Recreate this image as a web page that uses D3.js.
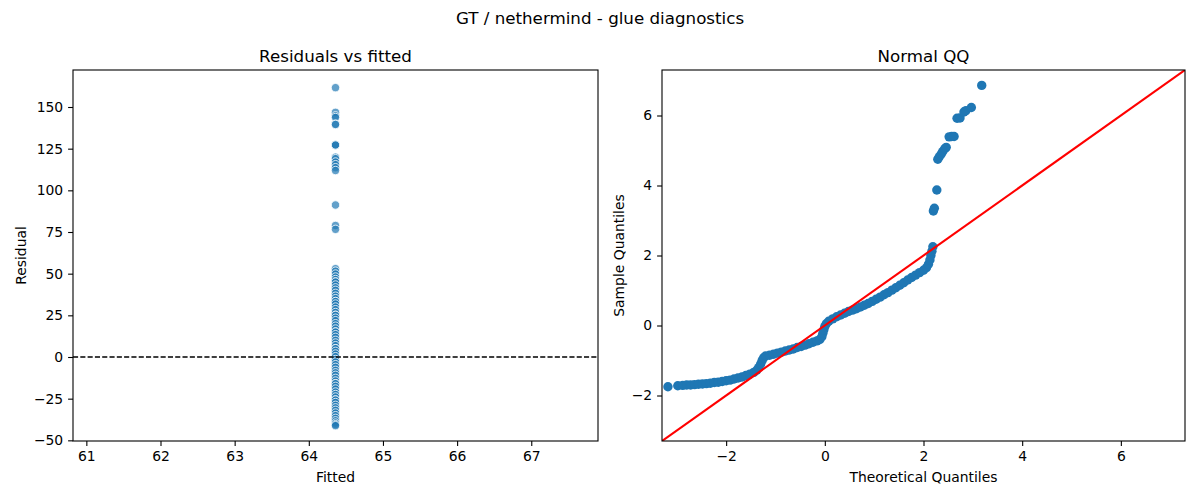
<!DOCTYPE html>
<html>
<head>
<meta charset="utf-8">
<script src="https://cdn.jsdelivr.net/npm/d3@7"></script>
<style>
  body { margin: 0; background: #fff; }
  svg { font-family: "DejaVu Sans", sans-serif; }
  .tick text { font-size: 13.9px; fill: #000; }
  .tick line, .domain { stroke: #000; }
</style>
</head>
<body>
<svg id="fig" width="1200" height="500"></svg>
<script>
// --- data ---
const fittedValue = 64.36;

const residuals = [
  161.6, 146.8, 144.7, 143.7, 139.7, 139.5, 127.2, 127.2, 127.2,
  119.9, 119.0, 117.0, 115.4, 113.6, 111.9, 91.2, 78.9, 76.6,
  53.0, 51.5, 49.8, 48.0, 46.5, 45.0, 45.0, 43.2, 41.5, 40.0, 38.2, 36.5,
  35.0, 33.3, 33.3, 31.8, 30.0, 28.4, 26.7, 25.0, 25.0, 23.3, 21.8, 20.0,
  18.5, 16.8, 15.0, 15.0, 13.4, 11.8, 10.0, 8.4, 6.8, 5.0, 5.0, 3.4, 1.8,
  0.2, -1.5, -3.0, -4.6, -6.2, -8.0, -9.5, -11.0, -12.8, -14.4, -16.0,
  -16.0, -17.6, -19.2, -21.0, -22.5, -24.0, -25.8, -25.8, -27.3, -29.0,
  -30.5, -32.0, -33.6, -35.2, -36.8, -38.3, -39.6, -40.6, -41.2
];

const theoretical = [
  -3.18, -2.98, -2.88, -2.80, -2.72, -2.64, -2.56, -2.48, -2.40, -2.32,
  -2.24, -2.16, -2.08, -2.00, -1.92, -1.84, -1.76, -1.68, -1.60, -1.52,
  -1.44, -1.38, -1.34, -1.30, -1.27, -1.24, -1.20, -1.12, -1.04, -0.96,
  -0.88, -0.80, -0.72, -0.64, -0.56, -0.48, -0.40, -0.32, -0.24, -0.16,
  -0.10, -0.06, -0.04, -0.02, 0.00, 0.03, 0.08, 0.16, 0.24, 0.32,
  0.40, 0.48, 0.56, 0.64, 0.72, 0.80, 0.88, 0.96, 1.04, 1.12,
  1.20, 1.28, 1.36, 1.44, 1.52, 1.60, 1.68, 1.76, 1.84, 1.92,
  2.00, 2.06, 2.10, 2.13, 2.15, 2.17, 2.19,
  2.20, 2.22, 2.27, 2.29, 2.32, 2.36, 2.39, 2.43, 2.46, 2.52,
  2.57, 2.62, 2.68, 2.74, 2.82, 2.86, 2.97, 3.18
];

const sample = [
  -1.75, -1.72, -1.71, -1.70, -1.70, -1.69, -1.68, -1.67, -1.66, -1.65,
  -1.63, -1.62, -1.60, -1.58, -1.56, -1.53, -1.50, -1.47, -1.43, -1.39,
  -1.34, -1.28, -1.20, -1.10, -1.00, -0.92, -0.87, -0.85, -0.82, -0.79,
  -0.76, -0.73, -0.70, -0.67, -0.63, -0.60, -0.56, -0.52, -0.48, -0.44,
  -0.40, -0.32, -0.22, -0.12, -0.03, 0.05, 0.12, 0.19, 0.25, 0.30,
  0.35, 0.40, 0.44, 0.48, 0.53, 0.58, 0.63, 0.69, 0.75, 0.81,
  0.88, 0.94, 1.01, 1.08, 1.15, 1.22, 1.30, 1.37, 1.44, 1.51,
  1.58, 1.65, 1.75, 1.87, 2.00, 2.12, 2.25,
  3.27, 3.35, 3.87, 4.75, 4.82, 4.90, 4.97, 5.05, 5.09, 5.39,
  5.40, 5.40, 5.92, 5.93, 6.10, 6.14, 6.23, 6.86
];

const residTicks = [-50, -25, 0, 25, 50, 75, 100, 125, 150];
const fittedTicks = [61, 62, 63, 64, 65, 66, 67];
const qqTicks = [-2, 0, 2, 4, 6];

const blue = '#1f77b4';
const svg = d3.select('#fig');

// suptitle
svg.append('text')
  .attr('x', 600).attr('y', 24)
  .attr('text-anchor', 'middle')
  .style('font-size', '16.7px')
  .text('GT / nethermind - glue diagnostics');

/**
 * Cadre d'un sous-graphe : axes, titre, libellés
 */
function panel(box, x, y, opts) {
  const g = svg.append('g');
  g.append('clipPath').attr('id', opts.id)
    .append('rect')
    .attr('x', box.left).attr('y', box.top)
    .attr('width', box.right - box.left).attr('height', box.bottom - box.top);

  const plot = g.append('g').attr('clip-path', `url(#${opts.id})`);

  g.append('g')
    .attr('transform', `translate(0,${box.bottom})`)
    .call(d3.axisBottom(x).tickValues(opts.xTicks).tickSize(4.9).tickPadding(4.9).tickFormat(opts.fmt))
    .call(a => a.select('.domain').remove());
  g.append('g')
    .attr('transform', `translate(${box.left},0)`)
    .call(d3.axisLeft(y).tickValues(opts.yTicks).tickSize(4.9).tickPadding(4.9).tickFormat(opts.fmt))
    .call(a => a.select('.domain').remove());

  g.selectAll('.tick line').attr('stroke-width', 1.1);
  g.selectAll('.tick text').attr('font-family', 'DejaVu Sans');

  // spines
  g.append('rect')
    .attr('x', box.left).attr('y', box.top)
    .attr('width', box.right - box.left).attr('height', box.bottom - box.top)
    .attr('fill', 'none').attr('stroke', '#000').attr('stroke-width', 1.1);

  const cx = (box.left + box.right) / 2;
  const cy = (box.top + box.bottom) / 2;
  g.append('text').attr('x', cx).attr('y', box.top - 8)
    .attr('text-anchor', 'middle').style('font-size', '16.7px').text(opts.title);
  g.append('text').attr('x', cx).attr('y', box.bottom + 41)
    .attr('text-anchor', 'middle').style('font-size', '13.9px').text(opts.xLabel);
  g.append('text')
    .attr('transform', `translate(${box.left - opts.yLabelOff},${cy}) rotate(-90)`)
    .attr('text-anchor', 'middle').style('font-size', '13.9px').text(opts.yLabel);

  return {plot, frame: g};
}

const minus = d => d3.format('d')(d).replace('-', '\u2212');

// --- Residuals vs fitted ---
const boxL = {left: 73, right: 598, top: 70, bottom: 441};
const xL = d3.scaleLinear().domain([60.82, 67.90]).range([boxL.left, boxL.right]);
const yL = d3.scaleLinear().domain([-50.4, 172.2]).range([boxL.bottom, boxL.top]);

const left = panel(boxL, xL, yL, {
  id: 'clipL', title: 'Residuals vs fitted', xLabel: 'Fitted', yLabel: 'Residual',
  xTicks: fittedTicks, yTicks: residTicks, fmt: minus, yLabelOff: 47
});

left.plot.append('g').selectAll('circle')
  .data(residuals)
  .join('circle')
    .attr('cx', xL(fittedValue))
    .attr('cy', d => yL(d))
    .attr('r', 4.2)
    .attr('fill', blue)
    .attr('fill-opacity', 0.7)
    .attr('stroke', '#fff')
    .attr('stroke-width', 0.8);

left.plot.append('line')
  .attr('x1', boxL.left).attr('x2', boxL.right)
  .attr('y1', yL(0)).attr('y2', yL(0))
  .attr('stroke', '#000').attr('stroke-width', 1.4)
  .attr('stroke-dasharray', '5.1,2.2');

// --- Normal QQ ---
const boxR = {left: 662, right: 1185, top: 70, bottom: 441};
const lim = [-3.3, 7.3];
const xR = d3.scaleLinear().domain(lim).range([boxR.left, boxR.right]);
const yR = d3.scaleLinear().domain(lim).range([boxR.bottom, boxR.top]);

const right = panel(boxR, xR, yR, {
  id: 'clipR', title: 'Normal QQ', xLabel: 'Theoretical Quantiles', yLabel: 'Sample Quantiles',
  xTicks: qqTicks, yTicks: qqTicks, fmt: minus, yLabelOff: 38
});

right.plot.append('g').selectAll('circle')
  .data(d3.zip(theoretical, sample))
  .join('circle')
    .attr('cx', d => xR(d[0]))
    .attr('cy', d => yR(d[1]))
    .attr('r', 4.7)
    .attr('fill', blue);

right.plot.append('line')
  .attr('x1', xR(lim[0])).attr('y1', yR(lim[0]))
  .attr('x2', xR(lim[1])).attr('y2', yR(lim[1]))
  .attr('stroke', 'red').attr('stroke-width', 2.1);
</script>
</body>
</html>
